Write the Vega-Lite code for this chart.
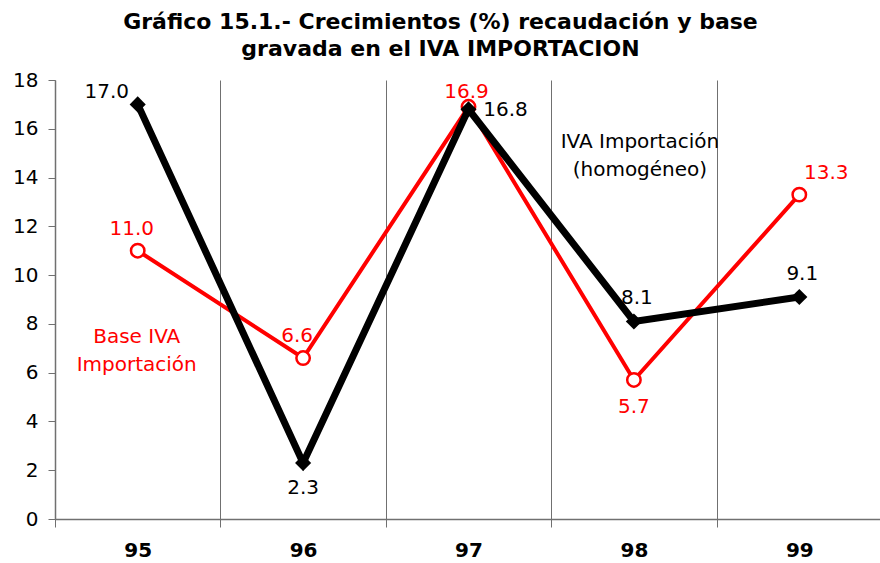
{
  "$schema": "https://vega.github.io/schema/vega-lite/v6.json",
  "autosize": "none",
  "width": 827,
  "height": 439,
  "padding": {"left": 55, "top": 80, "right": 0, "bottom": 44},
  "background": "white",
  "title": {
    "text": ["Gráfico 15.1.- Crecimientos (%) recaudación y base", "gravada en el IVA IMPORTACION"],
    "font": "DejaVu Sans",
    "fontSize": 22,
    "fontWeight": "bold",
    "color": "#000000",
    "anchor": "middle",
    "lineHeight": 27,
    "offset": 9,
    "dx": -28
  },
  "config": {
    "view": {"stroke": null},
    "font": "DejaVu Sans"
  },
  "data": {
    "values": [
      {"year": "95", "series": "IVA Importación (homogéneo)", "value": 17.0},
      {"year": "96", "series": "IVA Importación (homogéneo)", "value": 2.3},
      {"year": "97", "series": "IVA Importación (homogéneo)", "value": 16.8},
      {"year": "98", "series": "IVA Importación (homogéneo)", "value": 8.1},
      {"year": "99", "series": "IVA Importación (homogéneo)", "value": 9.1},
      {"year": "95", "series": "Base IVA Importación", "value": 11.0},
      {"year": "96", "series": "Base IVA Importación", "value": 6.6},
      {"year": "97", "series": "Base IVA Importación", "value": 16.9},
      {"year": "98", "series": "Base IVA Importación", "value": 5.7},
      {"year": "99", "series": "Base IVA Importación", "value": 13.3}
    ]
  },
  "encoding": {
    "x": {
      "field": "year",
      "type": "nominal",
      "sort": null,
      "scale": {"type": "band", "paddingInner": 0, "paddingOuter": 0},
      "axis": {
        "title": null,
        "labelAngle": 0,
        "tickBand": "extent",
        "grid": true,
        "gridColor": "#707070",
        "gridWidth": 1,
        "domainColor": "#707070",
        "domainWidth": 1.5,
        "tickColor": "#707070",
        "tickSize": 8,
        "labelFont": "DejaVu Sans",
        "labelFontSize": 20,
        "labelFontWeight": "bold",
        "labelColor": "#000000",
        "labelPadding": 13
      }
    },
    "y": {
      "field": "value",
      "type": "quantitative",
      "scale": {"domain": [0, 18], "nice": false},
      "axis": {
        "title": null,
        "values": [0, 2, 4, 6, 8, 10, 12, 14, 16, 18],
        "grid": false,
        "domainColor": "#707070",
        "domainWidth": 1.5,
        "tickColor": "#707070",
        "tickSize": 7,
        "labelFont": "DejaVu Sans",
        "labelFontSize": 20,
        "labelColor": "#000000",
        "labelPadding": 10
      }
    }
  },
  "layer": [
    {
      "transform": [{"filter": "datum.series === 'Base IVA Importación'"}],
      "mark": {"type": "line", "color": "#ff0000", "strokeWidth": 4}
    },
    {
      "transform": [{"filter": "datum.series === 'Base IVA Importación'"}],
      "mark": {"type": "point", "shape": "circle", "filled": true, "fill": "#ffffff", "stroke": "#ff0000", "strokeWidth": 2.5, "size": 180, "opacity": 1}
    },
    {
      "transform": [{"filter": "datum.series === 'IVA Importación (homogéneo)'"}],
      "mark": {"type": "line", "color": "#000000", "strokeWidth": 7}
    },
    {
      "transform": [{"filter": "datum.series === 'IVA Importación (homogéneo)'"}],
      "mark": {"type": "point", "shape": "diamond", "filled": true, "color": "#000000", "size": 260, "opacity": 1}
    },
    {
      "transform": [{"filter": "datum.series === 'IVA Importación (homogéneo)' && datum.year === '95'"}],
      "mark": {"type": "text", "fontSize": 20, "color": "#000000", "baseline": "middle", "dx": -31, "dy": -12},
      "encoding": {"text": {"field": "value", "type": "quantitative", "format": ".1f"}}
    },
    {
      "transform": [{"filter": "datum.series === 'IVA Importación (homogéneo)' && datum.year === '96'"}],
      "mark": {"type": "text", "fontSize": 20, "color": "#000000", "baseline": "middle", "dy": 25},
      "encoding": {"text": {"field": "value", "type": "quantitative", "format": ".1f"}}
    },
    {
      "transform": [{"filter": "datum.series === 'IVA Importación (homogéneo)' && datum.year === '97'"}],
      "mark": {"type": "text", "fontSize": 20, "color": "#000000", "baseline": "middle", "dx": 37, "dy": 1},
      "encoding": {"text": {"field": "value", "type": "quantitative", "format": ".1f"}}
    },
    {
      "transform": [{"filter": "datum.series === 'IVA Importación (homogéneo)' && (datum.year === '98' || datum.year === '99')"}],
      "mark": {"type": "text", "fontSize": 20, "color": "#000000", "baseline": "middle", "dx": 3, "dy": -23},
      "encoding": {"text": {"field": "value", "type": "quantitative", "format": ".1f"}}
    },
    {
      "transform": [{"filter": "datum.series === 'Base IVA Importación' && (datum.year === '95' || datum.year === '96')"}],
      "mark": {"type": "text", "fontSize": 20, "color": "#ff0000", "baseline": "middle", "dx": -6, "dy": -22},
      "encoding": {"text": {"field": "value", "type": "quantitative", "format": ".1f"}}
    },
    {
      "transform": [{"filter": "datum.series === 'Base IVA Importación' && datum.year === '97'"}],
      "mark": {"type": "text", "fontSize": 20, "color": "#ff0000", "baseline": "middle", "dx": -2, "dy": -15},
      "encoding": {"text": {"field": "value", "type": "quantitative", "format": ".1f"}}
    },
    {
      "transform": [{"filter": "datum.series === 'Base IVA Importación' && datum.year === '98'"}],
      "mark": {"type": "text", "fontSize": 20, "color": "#ff0000", "baseline": "middle", "dy": 27},
      "encoding": {"text": {"field": "value", "type": "quantitative", "format": ".1f"}}
    },
    {
      "transform": [{"filter": "datum.series === 'Base IVA Importación' && datum.year === '99'"}],
      "mark": {"type": "text", "fontSize": 20, "color": "#ff0000", "baseline": "middle", "dx": 27, "dy": -22},
      "encoding": {"text": {"field": "value", "type": "quantitative", "format": ".1f"}}
    },
    {
      "transform": [{"filter": "datum.series === 'IVA Importación (homogéneo)' && datum.year === '98'"}],
      "mark": {"type": "text", "fontSize": 20, "color": "#000000", "baseline": "middle", "align": "center", "lineBreak": "\n", "lineHeight": 28, "dx": 6, "text": "IVA Importación\n(homogéneo)"},
      "encoding": {"x": {"field": "year", "type": "nominal"}, "y": {"datum": 15.46}}
    },
    {
      "transform": [{"filter": "datum.series === 'Base IVA Importación' && datum.year === '95'"}],
      "mark": {"type": "text", "fontSize": 20, "color": "#ff0000", "baseline": "middle", "align": "center", "lineBreak": "\n", "lineHeight": 28, "dx": -1, "text": "Base IVA\nImportación"},
      "encoding": {"x": {"field": "year", "type": "nominal"}, "y": {"datum": 7.46}}
    }
  ]
}
